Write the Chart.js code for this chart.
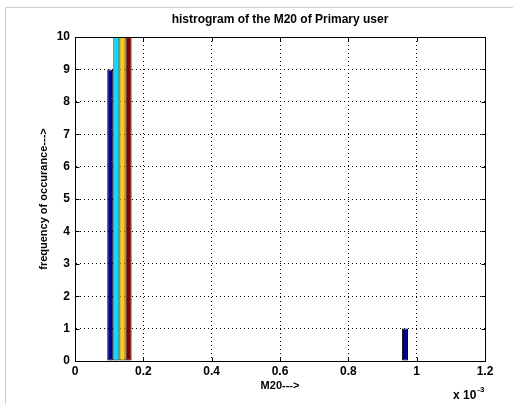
<!DOCTYPE html>
<html>
<head>
<meta charset="utf-8">
<title>M20 histogram</title>
<script src="https://cdn.jsdelivr.net/npm/chart.js@4/dist/chart.umd.min.js"></script>
<style>
  html, body { margin: 0; padding: 0; background: #fff; }
  canvas { display: block; }
</style>
</head>
<body>
<canvas id="histChart" width="513" height="404"></canvas>
<script>
// bin centres (in units of 1e-3) and counts for each of the four columns
const binCenters = [0.130, 0.2258, 0.3216, 0.4175, 0.5133, 0.6091, 0.7049, 0.8007, 0.8966, 0.9924];
const col1Counts = [9, 0, 0, 0, 0, 0, 0, 0, 0, 1];
const col2Counts = [10, 0, 0, 0, 0, 0, 0, 0, 0, 0];
const col3Counts = [10, 0, 0, 0, 0, 0, 0, 0, 0, 0];
const col4Counts = [10, 0, 0, 0, 0, 0, 0, 0, 0, 0];
const barColors = ['#00008f', '#00dfff', '#ffcf00', '#800000'];
const xTicks = [0, 0.2, 0.4, 0.6, 0.8, 1, 1.2];
const yTicks = [0, 1, 2, 3, 4, 5, 6, 7, 8, 9, 10];

const FONT = "'Liberation Sans', Arial, sans-serif";

function toPoints(counts) {
    return counts.map((c, i) => ({ x: binCenters[i], y: c }));
}

// box around the axes, inward tick marks, exponent label and figure edge
const matlabAxes = {
    id: 'matlabAxes',
    beforeDraw(chart) {
        const ctx = chart.ctx;
        ctx.save();
        ctx.strokeStyle = '#cfcfcf';
        ctx.lineWidth = 1;
        ctx.beginPath();
        ctx.moveTo(5.5, chart.height);
        ctx.lineTo(5.5, 7.5);
        ctx.lineTo(chart.width, 7.5);
        ctx.stroke();
        ctx.restore();
    },
    afterDraw(chart) {
        const { ctx, chartArea: a, scales } = chart;
        const L = Math.round(a.left) + 0.5, R = Math.round(a.right) + 0.5;
        const T = Math.round(a.top) + 0.5, B = Math.round(a.bottom) + 0.5;
        const len = 4;
        ctx.save();
        ctx.strokeStyle = '#000';
        ctx.lineWidth = 1;
        ctx.strokeRect(L, T, R - L, B - T);
        ctx.beginPath();
        xTicks.forEach(v => {
            const px = Math.round(scales.x.getPixelForValue(v)) + 0.5;
            ctx.moveTo(px, B); ctx.lineTo(px, B - len);
            ctx.moveTo(px, T); ctx.lineTo(px, T + len);
        });
        yTicks.forEach(v => {
            const py = Math.round(scales.y.getPixelForValue(v)) + 0.5;
            ctx.moveTo(L, py); ctx.lineTo(L + len, py);
            ctx.moveTo(R, py); ctx.lineTo(R - len, py);
        });
        ctx.stroke();

        // x 10^-3 multiplier under the right end of the x axis
        ctx.fillStyle = '#000';
        ctx.textBaseline = 'alphabetic';
        ctx.textAlign = 'left';
        ctx.font = 'bold 12px ' + FONT;
        ctx.fillText('x 10', 453, 399);
        const w = ctx.measureText('x 10').width;
        ctx.font = 'bold 8px ' + FONT;
        ctx.fillText('-3', 453 + w + 1, 392);
        ctx.restore();
    }
};

new Chart(document.getElementById('histChart'), {
    type: 'bar',
    data: {
        datasets: [col1Counts, col2Counts, col3Counts, col4Counts].map((counts, i) => ({
            label: 'column ' + (i + 1),
            data: toPoints(counts),
            backgroundColor: barColors[i],
            borderColor: '#000',
            borderWidth: 1,
            borderSkipped: false,
            categoryPercentage: 0.744,
            barPercentage: 1
        }))
    },
    options: {
        responsive: false,
        animation: false,
        layout: { padding: { left: 0, right: 28, top: 0, bottom: 0 } },
        plugins: {
            legend: { display: false },
            tooltip: { enabled: false },
            title: {
                display: true,
                fullSize: false,
                text: 'histrogram of the M20 of Primary user',
                color: '#000',
                font: { family: FONT, size: 12, weight: 'bold' },
                padding: { top: 12, bottom: 10.6 }
            }
        },
        scales: {
            x: {
                type: 'linear',
                min: 0,
                max: 1.2,
                offset: false,
                afterFit: s => { s.height = 43; },
                afterBuildTicks: s => { s.ticks = xTicks.map(v => ({ value: v })); },
                grid: { color: '#000', lineWidth: 1, drawTicks: false, offset: false },
                border: { display: true, color: '#000', width: 1, dash: [1, 3] },
                ticks: {
                    color: '#000',
                    padding: 3,
                    maxRotation: 0,
                    font: { family: FONT, size: 12, weight: 'bold' },
                    callback: v => String(+v.toFixed(1))
                },
                title: {
                    display: true,
                    text: 'M20--->',
                    color: '#000',
                    font: { family: FONT, size: 11, weight: 'bold' },
                    padding: { top: 0, bottom: 11.4 }
                }
            },
            y: {
                min: 0,
                max: 10,
                afterFit: s => { s.width = 75; },
                afterBuildTicks: s => { s.ticks = yTicks.map(v => ({ value: v })); },
                grid: { color: '#000', lineWidth: 1, drawTicks: false },
                border: { display: true, color: '#000', width: 1, dash: [1, 3] },
                ticks: {
                    color: '#000',
                    padding: 5,
                    font: { family: FONT, size: 12, weight: 'bold' }
                },
                title: {
                    display: true,
                    text: 'frequency of occurance--->',
                    color: '#000',
                    font: { family: FONT, size: 11, weight: 'bold' },
                    padding: { top: 37.4, bottom: 0 }
                }
            }
        }
    },
    plugins: [matlabAxes]
});
</script>
</body>
</html>
